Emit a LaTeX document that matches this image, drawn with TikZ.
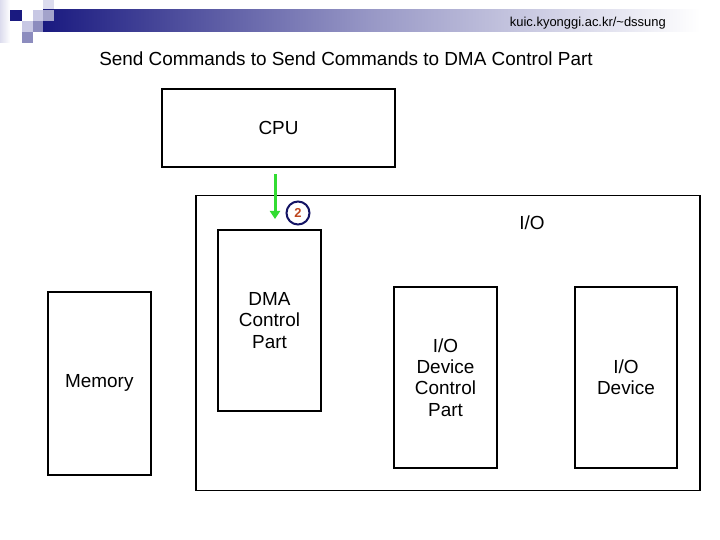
\documentclass[tikz,border=0pt]{standalone}
\usepackage{fontspec}
\setmainfont{Liberation Sans}
\usetikzlibrary{arrows.meta}
\definecolor{navy}{RGB}{26,26,128}
\definecolor{sqA}{RGB}{200,200,228}
\definecolor{sqB}{RGB}{140,140,190}
\definecolor{sqC}{RGB}{220,220,238}
\definecolor{arrgreen}{RGB}{50,220,50}
\definecolor{numcol}{RGB}{190,70,30}
\definecolor{circcol}{RGB}{20,20,100}
\tikzset{
  box/.style={draw=black, line width=2.5bp, minimum width=#1, inner sep=0pt, align=center, font=\fontsize{19}{21.5}\selectfont},
  lbl/.style={inner sep=0pt, align=center, font=\fontsize{19}{21.5}\selectfont},
  greenarrow/.style={draw=arrgreen, line width=3bp, -{Triangle[length=8bp,width=10bp]}},
  numcirc/.style={circle, draw=circcol, line width=2bp, minimum size=23bp, inner sep=0pt, text=numcol, font=\fontsize{13}{13}\selectfont\bfseries}
}
\begin{document}
\begin{tikzpicture}[x=1bp,y=-1bp]
\useasboundingbox (0,0) rectangle (720,540);
\fill[white] (0,0) rectangle (720,540);
% header decoration
\shade[left color=sqC, right color=white] (0,0) rectangle (10,43);
\fill[sqC] (43,0) rectangle (54,10);
\shade[left color=navy, right color=white, middle color={navy!45!white}] (43,10) rectangle (700,32);
\fill[navy] (10,10) rectangle (22,21);
\fill[sqA] (33,10) rectangle (43,21);
\fill[sqB!80!white] (43,10) rectangle (54,21);
\fill[sqA] (22,21) rectangle (33,32);
\fill[sqB] (33,21) rectangle (43,32);
\fill[sqB] (22,32) rectangle (33,43);
\node[anchor=east, inner sep=0pt, font=\fontsize{13}{13}\selectfont] (url) at (666,23) {kuic.kyonggi.ac.kr/\textasciitilde dssung};
% title
\node[lbl] (title) at (346,59) {Send Commands to Send Commands to DMA Control Part};
% boxes
\node[box=233bp, minimum height=78bp] (cpu) at (278.5,128) {CPU};
\node[draw=black, line width=1.5bp, minimum width=504bp, minimum height=295bp, inner sep=0pt] (io) at (448,343) {};
\node[lbl] (iolbl) at (532,223) {I/O};
\node[box=103bp, minimum height=181bp] (dma) at (269.5,320.5) {DMA\\Control\\Part};
\node[box=103bp, minimum height=183bp] (mem) at (99.3,383.3) {Memory};
\node[box=103bp, minimum height=181bp] (iodc) at (445.5,377.5) {I/O\\Device\\Control\\Part};
\node[box=102bp, minimum height=181bp] (iodev) at (626,377.5) {I/O\\Device};
% arrow and step number
\coordinate (aE) at (275,219);
\draw[greenarrow, shorten <=6bp] (cpu.south -| aE) -- (aE);
\node[numcirc] (n2) at (298,213) {2};
\end{tikzpicture}
\end{document}
